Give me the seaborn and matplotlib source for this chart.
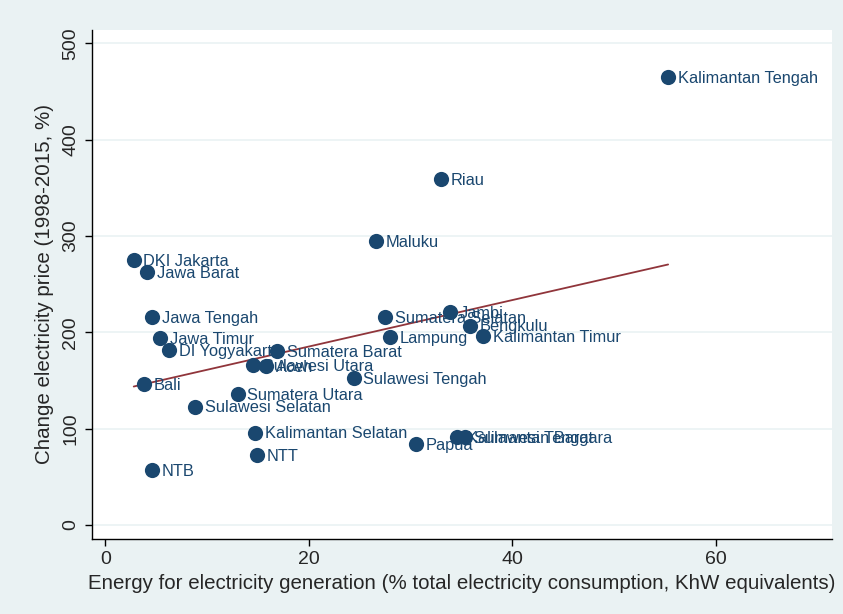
import matplotlib
matplotlib.use("Agg")
import matplotlib.pyplot as plt
import seaborn as sns
import pandas as pd

# Provincial electricity data, Indonesia
provinces = [
    "Kalimantan Tengah", "Riau", "Maluku", "DKI Jakarta", "Jawa Barat",
    "Jawa Tengah", "Jawa Timur", "DI Yogyakarta", "Bali", "Sulawesi Selatan",
    "Sumatera Utara", "Kalimantan Selatan", "NTT", "NTB", "Sumatera Barat",
    "Sulawesi Utara", "Aceh", "Sulawesi Tengah", "Sumatera Selatan", "Lampung",
    "Jambi", "Bengkulu", "Kalimantan Timur", "Papua", "Kalimantan Barat",
    "Sulawesi Tenggara",
]
energy_share = [
    55.3, 33.0, 26.6, 2.8, 4.1,
    4.6, 5.4, 6.3, 3.8, 8.8,
    13.0, 14.7, 14.9, 4.6, 16.9,
    14.5, 15.8, 24.4, 27.5, 28.0,
    33.9, 35.8, 37.1, 30.5, 34.6,
    35.3,
]
price_change = [
    465, 359, 295, 275, 263,
    216, 194, 182, 146, 123,
    136, 96, 73, 57, 181,
    166, 165, 153, 216, 195,
    221, 207, 196, 84, 91,
    91,
]
x_ticks = [0, 20, 40, 60]
y_ticks = [0, 100, 200, 300, 400, 500]

df = pd.DataFrame({"province": provinces, "energy": energy_share, "price": price_change})

navy = "#1A476F"
maroon = "#90353B"
bg = "#EAF2F3"

sns.set_theme(style="white")
plt.rcParams["font.family"] = ["Liberation Sans", "DejaVu Sans"]

fig = plt.figure(figsize=(8.43, 6.14), dpi=100, facecolor=bg)
ax = fig.add_axes([92 / 843, 1 - 539 / 614, (832 - 92) / 843, (539 - 30) / 614])
ax.set_facecolor("white")

for y in y_ticks:
    ax.axhline(y, color=bg, lw=1.2, zorder=0)

sns.scatterplot(data=df, x="energy", y="price", ax=ax, color=navy, s=120,
                edgecolor=navy, linewidth=0, zorder=3, legend=False)
sns.regplot(data=df, x="energy", y="price", ax=ax, scatter=False, ci=None,
            color=maroon, line_kws={"lw": 1.3, "zorder": 2}, truncate=True)

for name, x, y in zip(provinces, energy_share, price_change):
    ax.annotate(name, (x, y), xytext=(7, -1), textcoords="offset points",
                va="center", ha="left", fontsize=11.8, color=navy, zorder=4)

ax.set_xlim(-1.3, 71.4)
ax.set_ylim(-14.5, 513.8)
ax.set_xticks(x_ticks)
ax.set_yticks(y_ticks)
ax.set_xticklabels([str(t) for t in x_ticks], fontsize=14)
ax.set_yticklabels([str(t) for t in y_ticks], fontsize=14, rotation=90, va="center")
ax.tick_params(axis="both", direction="out", length=5, width=1, color="black",
               bottom=True, left=True, pad=4)

for side in ["top", "right"]:
    ax.spines[side].set_visible(False)
for side in ["left", "bottom"]:
    ax.spines[side].set_color("black")
    ax.spines[side].set_linewidth(1)

ax.set_xlabel("Energy for electricity generation (% total electricity consumption, KhW equivalents)",
              fontsize=14.8, labelpad=4)
ax.set_ylabel("Change electricity price (1998-2015, %)", fontsize=14.8, labelpad=6)

fig.savefig("out.png", dpi=100, facecolor=bg)
